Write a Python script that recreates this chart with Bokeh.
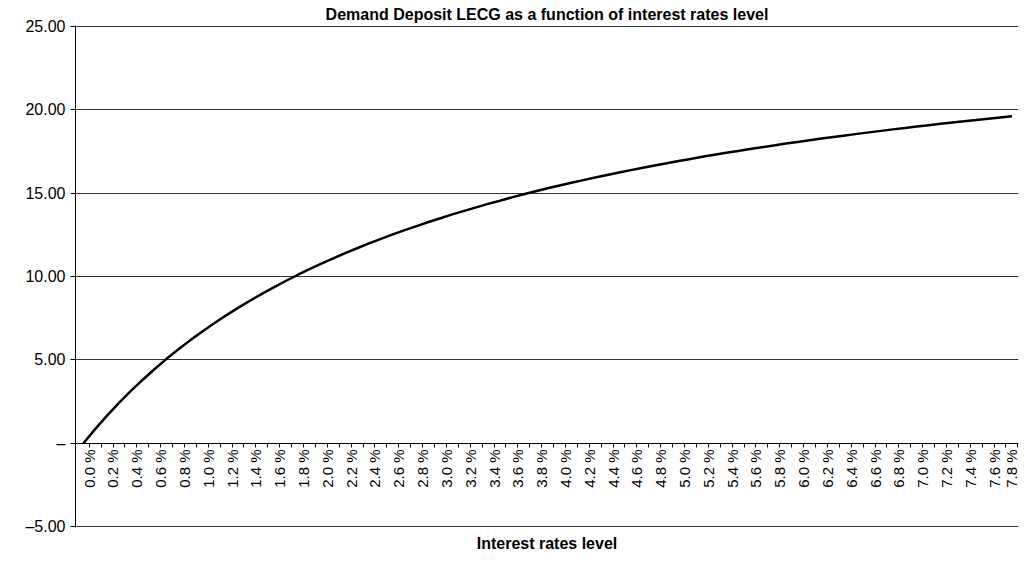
import math
from bokeh.plotting import figure
from bokeh.models import FixedTicker, Range1d, Title
from bokeh.embed import file_html
from bokeh.resources import INLINE

# interest rate level in %, step 0.1
rates = [round(i * 0.1, 1) for i in range(79)]
lecg = [0.00, 0.86, 1.67, 2.43, 3.15, 3.82, 4.46, 5.07, 5.64, 6.19,
        6.71, 7.20, 7.67, 8.12, 8.55, 8.96, 9.35, 9.73, 10.09, 10.44,
        10.77, 11.09, 11.40, 11.69, 11.98, 12.25, 12.52, 12.78, 13.02, 13.26,
        13.49, 13.72, 13.93, 14.14, 14.35, 14.54, 14.74, 14.92, 15.10, 15.28,
        15.45, 15.61, 15.77, 15.93, 16.08, 16.23, 16.37, 16.51, 16.65, 16.78,
        16.91, 17.04, 17.17, 17.29, 17.41, 17.52, 17.63, 17.74, 17.85, 17.96,
        18.06, 18.16, 18.26, 18.36, 18.45, 18.54, 18.63, 18.72, 18.81, 18.89,
        18.98, 19.06, 19.14, 19.22, 19.30, 19.37, 19.45, 19.52, 19.59]
y_ticks = [-5, 0, 5, 10, 15, 20, 25]

FONT = "Liberation Sans"

p = figure(frame_width=943, frame_height=502, output_backend="svg", toolbar_location=None,
           tools="", x_range=Range1d(-0.065, 7.855), y_range=Range1d(-5.03, 25.03),
           min_border_left=75, min_border_right=2, min_border_bottom=0, min_border_top=5)
p.title.text = "Demand Deposit LECG as a function of interest rates level"
p.title.align = "center"
p.title.text_font = FONT
p.title.text_font_size = "16px"
p.title.text_font_style = "bold"
p.title.text_color = "black"
p.title.standoff = 6

p.line(rates, lecg, line_color="black", line_width=2.5)

p.add_layout(Title(text="Interest rates level", align="center", text_font=FONT,
                   text_font_size="16px", text_font_style="bold", text_color="black"), "below")

p.outline_line_color = None
p.background_fill_color = None
p.xgrid.grid_line_color = None
p.ygrid.grid_line_color = "#333333"
p.ygrid.grid_line_width = 1

p.yaxis.ticker = FixedTicker(ticks=y_ticks)
p.yaxis.major_label_overrides = {t: ("\u2013" if t == 0 else ("\u2013%.2f" % -t if t < 0 else "%.2f" % t)) for t in y_ticks}
p.yaxis.major_label_text_font = FONT
p.yaxis.major_label_text_font_size = "16px"
p.yaxis.major_label_text_color = "black"
p.yaxis.axis_line_color = "black"
p.yaxis.major_tick_line_color = "black"
p.yaxis.major_tick_out = 5
p.yaxis.major_tick_in = 0
p.yaxis.minor_tick_line_color = None

p.xaxis.fixed_location = 0
p.xaxis.ticker = FixedTicker(ticks=[r + 0.05 for r in rates])
p.xaxis.major_label_overrides = {r + 0.05: ("%.1f %%" % r if i % 2 == 0 else "") for i, r in enumerate(rates)}
p.xaxis.major_label_orientation = math.pi / 2
p.xaxis.major_label_text_font = FONT
p.xaxis.major_label_text_font_size = "15px"
p.xaxis.major_label_text_color = "black"
p.xaxis.major_label_standoff = 2
p.xaxis.axis_line_color = "black"
p.xaxis.major_tick_line_color = "black"
p.xaxis.major_tick_out = 4
p.xaxis.major_tick_in = 0
p.xaxis.minor_tick_line_color = None

open("out.html", "w").write(file_html(p, INLINE))
